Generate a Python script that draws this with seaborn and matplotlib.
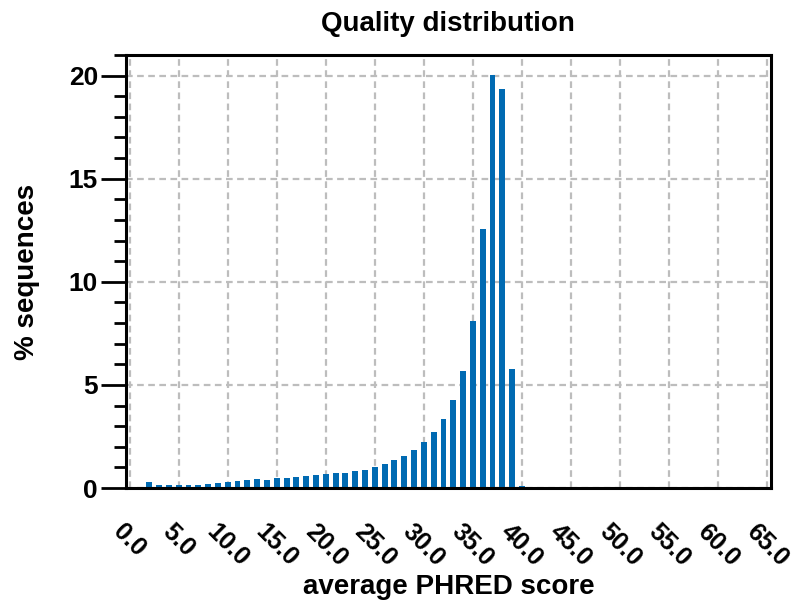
import matplotlib
matplotlib.use("Agg")
import matplotlib.pyplot as plt
import seaborn as sns
import numpy as np
import pandas as pd
from matplotlib.ticker import MultipleLocator

scores = list(range(2, 41))
percent = [0.28, 0.15, 0.15, 0.15, 0.16, 0.16, 0.20, 0.25, 0.29, 0.34,
           0.37, 0.42, 0.41, 0.47, 0.50, 0.53, 0.57, 0.61, 0.66, 0.71,
           0.74, 0.81, 0.89, 1.03, 1.17, 1.36, 1.57, 1.84, 2.21, 2.71,
           3.34, 4.25, 5.68, 8.10, 12.58, 20.05, 19.37, 5.76, 0.12]
xticks = [0, 5, 10, 15, 20, 25, 30, 35, 40, 45, 50, 55, 60, 65]
xtick_labels = ["%.1f" % v for v in xticks]
yticks = [0, 5, 10, 15, 20]

df = pd.DataFrame({"score": scores, "pct": percent})

sns.set_style("white")
plt.rcParams["font.family"] = ["Liberation Sans", "DejaVu Sans"]
plt.rcParams["font.weight"] = "bold"
for k in ["text.color", "axes.labelcolor", "xtick.color", "ytick.color"]:
    plt.rcParams[k] = "black"

fig = plt.figure(figsize=(8.01, 6.04), dpi=100)
ax = fig.add_axes([0.157, 0.192, 0.8055, 0.717])

sns.barplot(data=df, x="score", y="pct", native_scale=True, width=0.6,
            color="#006ab2", saturation=1, edgecolor="none", ax=ax)

ax.set_xlim(-0.4, 65.4)
ax.set_ylim(0, 21)
ax.set_xticks(xticks)
ax.set_xticklabels(xtick_labels, rotation=-45, ha="center", va="top",
                   fontsize=18, fontweight="bold")
ax.set_yticks(yticks)
ax.set_yticklabels([str(v) for v in yticks], fontsize=19, fontweight="bold")
ax.yaxis.set_minor_locator(MultipleLocator(1))

ax.tick_params(axis="y", which="major", direction="out", length=18, width=2,
               pad=2, left=True)
ax.tick_params(axis="y", which="minor", direction="out", length=9, width=2,
               left=True)
ax.tick_params(axis="x", which="major", length=0, pad=23)

for s in ax.spines.values():
    s.set_visible(True)
    s.set_color("black")
    s.set_linewidth(2.2)

ax.set_axisbelow(True)
ax.grid(True, which="major", axis="both", color="#bdbdbd",
        linestyle=(0, (3, 2)), linewidth=1.6)

ax.set_title("Quality distribution", fontsize=20, fontweight="bold", pad=17)
ax.set_xlabel("average PHRED score", fontsize=20, fontweight="bold")
ax.set_ylabel("% sequences", fontsize=20, fontweight="bold")
ax.xaxis.set_label_coords(0.5, -0.198)
ax.yaxis.set_label_coords(-0.133, 0.5)

fig.savefig("out.png", dpi=100)
